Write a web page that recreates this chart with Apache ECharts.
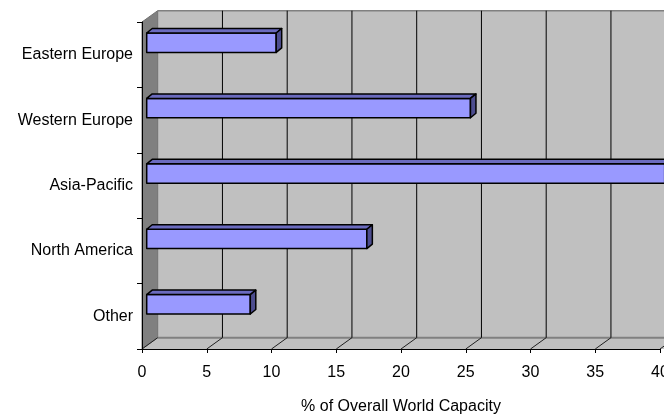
<!DOCTYPE html>
<html>
<head>
<meta charset="utf-8">
<title>% of Overall World Capacity</title>
<script src="https://cdn.jsdelivr.net/npm/echarts@6/dist/echarts.min.js"></script>
<style>
  html, body { margin: 0; padding: 0; background: #ffffff; }
  #chart { width: 664px; height: 417px; }
</style>
</head>
<body>
<div id="chart"></div>
<script>
// Regions and their share of world capacity (%)
const categories = ['Eastern Europe', 'Western Europe', 'Asia-Pacific', 'North America', 'Other'];
const capacity = [10, 25, 40, 17, 8];
// Value-axis ticks
const tickValues = [0, 5, 10, 15, 20, 25, 30, 35, 40];

// Depth of the 3D box (back wall shift) and of each bar
const WALL_DX = 15.7, WALL_DY = -11.3;
const BAR_DX = 5.5, BAR_DY = -4.5;
const BAR_SHIFT_X = 4.7, BAR_SHIFT_Y = -12;

const font = 'Liberation Sans, Arial, sans-serif';
const chart = echarts.init(document.getElementById('chart'), null, { renderer: 'canvas' });

function renderBox(params, api) {
  const cs = params.coordSys;
  const left = cs.x, top = cs.y, right = cs.x + cs.width, bottom = cs.y + cs.height;
  const children = [];
  // back wall
  children.push({
    type: 'rect',
    shape: { x: left + WALL_DX, y: top + WALL_DY, width: cs.width + 40, height: cs.height },
    style: { fill: '#c0c0c0' }
  });
  // floor
  children.push({
    type: 'polygon',
    shape: { points: [[left, bottom], [right + 40, bottom], [right + 40 + WALL_DX, bottom + WALL_DY], [left + WALL_DX, bottom + WALL_DY]] },
    style: { fill: '#c0c0c0' }
  });
  // left side wall
  children.push({
    type: 'polygon',
    shape: { points: [[left, top], [left + WALL_DX, top + WALL_DY], [left + WALL_DX, bottom + WALL_DY], [left, bottom]] },
    style: { fill: '#808080', stroke: '#707070', lineWidth: 1 }
  });
  // top edge of the back wall
  children.push({
    type: 'line',
    shape: { x1: left + WALL_DX, y1: top + WALL_DY, x2: right + 40, y2: top + WALL_DY },
    style: { stroke: '#808080', lineWidth: 1.5 }
  });
  // back edge of the floor
  children.push({
    type: 'line',
    shape: { x1: left + WALL_DX, y1: bottom + WALL_DY, x2: right + 40, y2: bottom + WALL_DY },
    style: { stroke: '#808080', lineWidth: 2 }
  });
  // gridlines on the back wall and their floor connectors
  tickValues.forEach(function (v) {
    const x = api.coord([v, 0])[0];
    if (v > 0) {
      children.push({
        type: 'line',
        shape: { x1: x + WALL_DX, y1: top + WALL_DY, x2: x + WALL_DX, y2: bottom + WALL_DY },
        style: { stroke: '#000000', lineWidth: 1 }
      });
    }
    children.push({
      type: 'line',
      shape: { x1: x, y1: bottom, x2: x + WALL_DX, y2: bottom + WALL_DY },
      style: { stroke: '#202020', lineWidth: 1 }
    });
  });
  return { type: 'group', children: children };
}

function renderBar(params, api) {
  const end = api.coord([api.value(0), api.value(1)]);
  const start = api.coord([0, api.value(1)]);
  const band = api.size([0, 1])[1];
  const h = band * 0.296;
  const cy = end[1] + BAR_SHIFT_Y;
  const x0 = start[0] + BAR_SHIFT_X, x1 = end[0] + BAR_SHIFT_X;
  const yt = cy - h / 2, yb = cy + h / 2;
  const edge = { stroke: '#000000', lineWidth: 1.5, lineJoin: 'round' };
  return {
    type: 'group',
    children: [
      {
        type: 'rect',
        shape: { x: x0, y: yt, width: x1 - x0, height: h },
        style: Object.assign({ fill: '#9999ff' }, edge)
      },
      {
        type: 'polygon',
        shape: { points: [[x0, yt], [x1, yt], [x1 + BAR_DX, yt + BAR_DY], [x0 + BAR_DX, yt + BAR_DY]] },
        style: Object.assign({ fill: '#6b6bbf' }, edge)
      },
      {
        type: 'polygon',
        shape: { points: [[x1, yt], [x1 + BAR_DX, yt + BAR_DY], [x1 + BAR_DX, yb + BAR_DY], [x1, yb]] },
        style: Object.assign({ fill: '#4d4d8f' }, edge)
      }
    ]
  };
}

chart.setOption({
  animation: false,
  backgroundColor: '#ffffff',
  grid: { left: 142, right: 4, top: 22, bottom: 68, containLabel: false, outerBoundsMode: 'none' },
  xAxis: {
    type: 'value',
    min: 0,
    max: 40,
    interval: 5,
    z: 5,
    name: '% of Overall World Capacity',
    nameLocation: 'middle',
    nameGap: 50,
    nameTextStyle: { fontFamily: font, fontSize: 16, color: '#000000' },
    axisLine: { show: true, lineStyle: { color: '#000000', width: 1 } },
    axisTick: { show: true, length: 4, lineStyle: { color: '#000000' } },
    axisLabel: { margin: 16, fontFamily: font, fontSize: 16, color: '#000000', showMaxLabel: true },
    splitLine: { show: false }
  },
  yAxis: {
    type: 'category',
    data: categories,
    inverse: true,
    z: 5,
    axisLine: { show: true, lineStyle: { color: '#000000', width: 1 } },
    axisTick: { show: true, length: 5, lineStyle: { color: '#000000' } },
    axisLabel: { margin: 9, fontFamily: font, fontSize: 16, color: '#000000' },
    splitLine: { show: false }
  },
  series: [
    {
      type: 'custom',
      name: 'box',
      z: 1,
      clip: false,
      silent: true,
      renderItem: renderBox,
      data: [[0, 0]]
    },
    {
      type: 'custom',
      name: 'Capacity',
      z: 3,
      clip: false,
      renderItem: renderBar,
      encode: { x: 0, y: 1 },
      data: capacity.map(function (v, i) { return [v, i]; })
    }
  ]
});
</script>
</body>
</html>
